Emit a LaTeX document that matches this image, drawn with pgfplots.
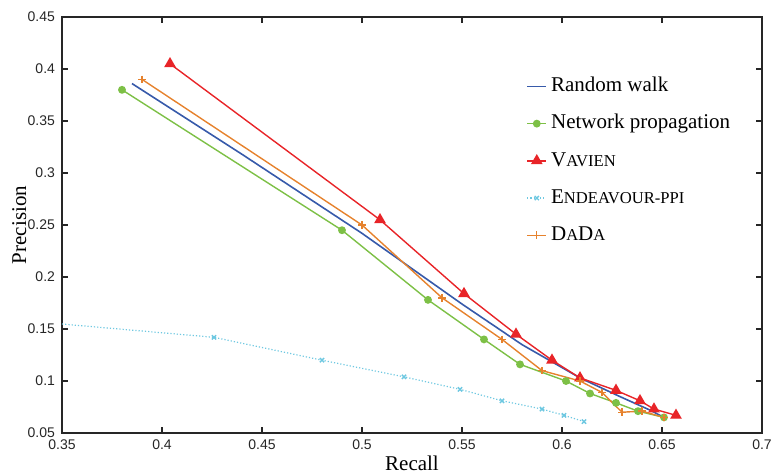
\documentclass[border=0pt]{standalone}
\usepackage{fontspec}
\setmainfont{Liberation Serif}
\newfontfamily\arialfont{Liberation Sans}
\usepackage{pgfplots}
\pgfplotsset{compat=1.18}
\definecolor{rwblue}{RGB}{55,90,170}
\definecolor{npgreen}{RGB}{125,192,70}
\definecolor{vred}{RGB}{232,36,40}
\definecolor{ecyan}{RGB}{110,200,225}
\definecolor{dorange}{RGB}{230,130,45}
\newcommand\fsc[1]{{\fontsize{8.3}{9}\selectfont #1}}
\begin{document}
\begin{tikzpicture}
\path[use as bounding box] (-31pt,-20pt) rectangle (355.5pt,216.5pt);
\begin{axis}[
  at={(0,0)}, anchor=south west,
  scale only axis, width=350pt, height=208pt,
  xmin=0.35, xmax=0.7, ymin=0.05, ymax=0.45,
  xtick={0.35,0.4,0.45,0.5,0.55,0.6,0.65,0.7},
  ytick={0.05,0.1,0.15,0.2,0.25,0.3,0.35,0.4,0.45},
  scaled ticks=false,
  xticklabel style={/pgf/number format/fixed, /pgf/number format/precision=2},
  yticklabel style={/pgf/number format/fixed, /pgf/number format/precision=2},
  tick align=inside,
  major tick length=3pt,
  axis line style={line width=0.75pt, color=black!85},
  every tick/.style={black!85, line width=0.6pt},
  /pgf/number format/assume math mode=true,
  /pgf/number format/fixed, /pgf/number format/precision=2,
  tick label style={font=\arialfont\fontsize{7}{8}\selectfont, color=black!85},
  xlabel={Recall}, ylabel={Precision},
  label style={font=\fontsize{10.5}{12}\selectfont},
  xlabel style={at={(axis description cs:0.5,-0.089)}, anchor=base, inner sep=0pt},
  ylabel style={at={(axis description cs:-0.0514,0.5)}, anchor=base, inner sep=0pt},
  legend style={draw=none, fill=none, inner sep=0pt,
    at={(axis description cs:0.663,0.867)}, anchor=north west,
    row sep=4.9pt, font=\fontsize{10.5}{12}\selectfont,
    nodes={text height=7.5pt, text depth=2.2pt}},
  legend cell align=left,
  legend image code/.code={\draw[mark repeat=2,mark phase=2] plot coordinates {(0pt,0pt)(4.75pt,0pt)(9.5pt,0pt)};},
]
\addplot[rwblue, line width=0.8pt] coordinates {
 (0.385,0.386) (0.44,0.318) (0.5,0.242) (0.55,0.174) (0.58,0.135)
 (0.609,0.103) (0.629,0.085) (0.644,0.072) (0.651,0.065)};
\addlegendentry{Random walk}
\addplot[npgreen, line width=0.7pt, mark=*, mark size=1.6pt] coordinates {
 (0.38,0.38) (0.49,0.245) (0.533,0.178) (0.561,0.14) (0.579,0.116)
 (0.602,0.1) (0.614,0.088) (0.627,0.079) (0.638,0.071) (0.651,0.065)};
\addlegendentry{Network propagation}
\addplot[vred, line width=0.7pt, mark=triangle*, mark size=2.7pt] coordinates {
 (0.404,0.405) (0.509,0.255) (0.551,0.184) (0.577,0.145) (0.595,0.12)
 (0.609,0.103) (0.627,0.091) (0.639,0.081) (0.646,0.073) (0.657,0.067)};
\addlegendentry{V\fsc{AVIEN}}
\addplot[ecyan, line width=0.6pt, densely dotted, mark=x, mark size=1.5pt,
  mark options={solid, line width=0.7pt}, mark repeat=1, mark phase=2] coordinates {
 (0.35,0.1548) (0.426,0.142) (0.48,0.12) (0.521,0.104) (0.549,0.092)
 (0.57,0.081) (0.59,0.073) (0.601,0.067) (0.611,0.061)};
\addlegendentry{E\fsc{NDEAVOUR-PPI}}
\addplot[dorange, line width=0.7pt, mark=+, mark size=1.9pt, mark options={line width=0.7pt}] coordinates {
 (0.39,0.39) (0.5,0.25) (0.54,0.18) (0.57,0.14) (0.59,0.11)
 (0.609,0.1) (0.62,0.089) (0.63,0.07) (0.64,0.071) (0.651,0.065)};
\addlegendentry{D\fsc{A}D\fsc{A}}
\end{axis}
\end{tikzpicture}
\end{document}
